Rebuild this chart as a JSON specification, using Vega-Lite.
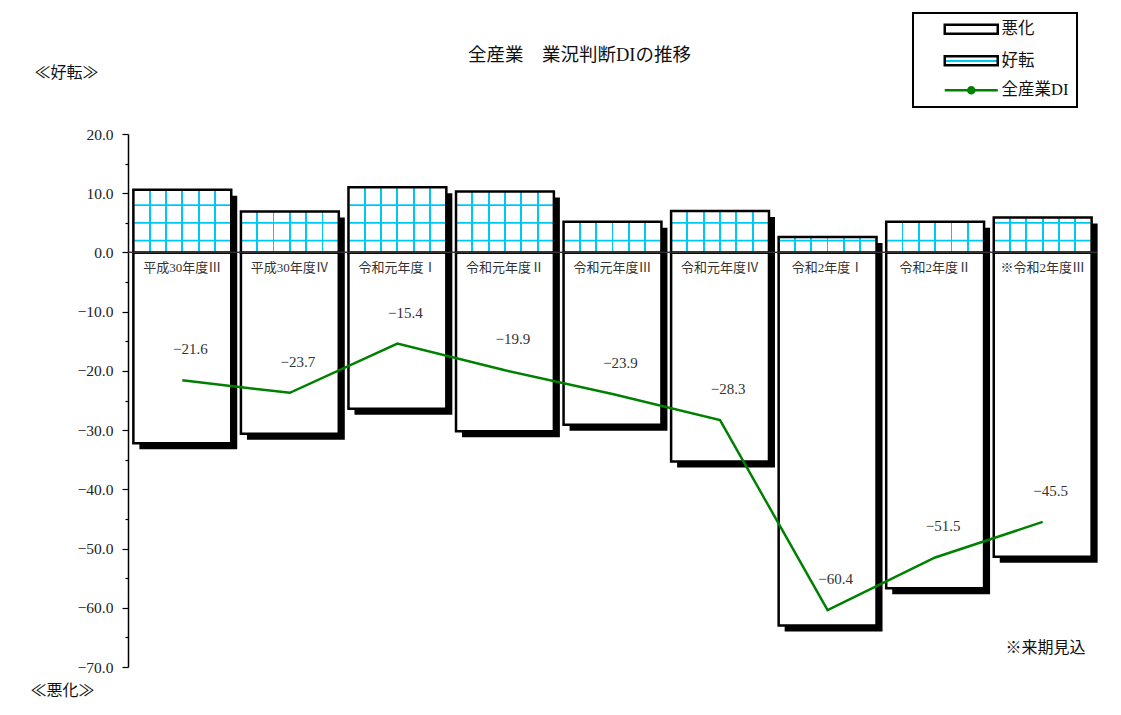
{
  "$schema": "https://vega.github.io/schema/vega-lite/v6.json",
  "autosize": {"type": "none"},
  "width": 969,
  "height": 533,
  "padding": {"left": 128, "top": 134, "right": 24, "bottom": 48},
  "background": "white",
  "title": {"text": "全産業　業況判断DIの推移", "font": "Liberation Serif, Noto Sans CJK JP", "fontSize": 18.5, "fontWeight": "normal", "color": "#111", "anchor": "middle", "frame": "group", "dx": -33, "dy": 58, "offset": 6},
  "config": {
    "view": {"stroke": null},
    "font": "Liberation Serif, Noto Sans CJK JP",
    "text": {"font": "Liberation Serif, Noto Sans CJK JP"}
  },
  "data": {
    "values": [
      {"cat": "平成30年度Ⅲ", "pos": 10.6, "neg": -32.2, "di": -21.6},
      {"cat": "平成30年度Ⅳ", "pos": 6.9, "neg": -30.6, "di": -23.7},
      {"cat": "令和元年度Ⅰ", "pos": 11.0, "neg": -26.4, "di": -15.4},
      {"cat": "令和元年度Ⅱ", "pos": 10.3, "neg": -30.2, "di": -19.9},
      {"cat": "令和元年度Ⅲ", "pos": 5.2, "neg": -29.1, "di": -23.9},
      {"cat": "令和元年度Ⅳ", "pos": 7.0, "neg": -35.3, "di": -28.3},
      {"cat": "令和2年度Ⅰ", "pos": 2.6, "neg": -63.0, "di": -60.4},
      {"cat": "令和2年度Ⅱ", "pos": 5.2, "neg": -56.7, "di": -51.5},
      {"cat": "※令和2年度Ⅲ", "pos": 5.9, "neg": -51.4, "di": -45.5}
    ]
  },
  "encoding": {
    "x": {
      "field": "cat", "type": "nominal", "sort": null,
      "scale": {"paddingInner": 0.09, "paddingOuter": 0.05},
      "axis": {"labels": false, "ticks": false, "domain": false, "title": "※来期見込", "titleX": 917, "titleY": -20, "titleAlign": "center", "titleBaseline": "middle", "titleFont": "Liberation Serif, Noto Sans CJK JP", "titleFontSize": 16, "titleFontWeight": "normal", "titleColor": "#111"}
    }
  },
  "resolve": {"axis": {"y": "independent"}},
  "layer": [
    {
      "mark": {"type": "bar", "fill": "black", "xOffset": 6, "x2Offset": 6, "yOffset": 6, "y2Offset": 6},
      "encoding": {
        "y": {"field": "pos", "type": "quantitative", "scale": {"domain": [-70, 20], "nice": false},
          "axis": {
            "orient": "left",
            "values": [-70, -65, -60, -55, -50, -45, -40, -35, -30, -25, -20, -15, -10, -5, 0, 5, 10, 15, 20],
            "labelExpr": "datum.value % 10 === 0 ? format(datum.value, '.1f') : ''",
            "grid": false,
            "domainColor": "black", "domainWidth": 1.5,
            "tickColor": "black", "tickWidth": 1.2,
            "tickSize": {"condition": {"test": "datum.value % 10 === 0", "value": 6}, "value": 3},
            "labelFont": "Liberation Serif", "labelFontSize": 15.5, "labelColor": "#222", "labelPadding": 9,
            "title": "≪好転≫", "titleAngle": 0, "titleX": -62, "titleY": -62, "titleAlign": "center", "titleBaseline": "middle",
            "titleFont": "Liberation Serif, Noto Sans CJK JP", "titleFontSize": 16, "titleFontWeight": "normal", "titleColor": "#111"
          }
        },
        "y2": {"field": "neg"}
      }
    },
    {
      "mark": {"type": "bar", "fill": "white", "stroke": "black", "strokeWidth": 2.5},
      "encoding": {
        "y": {"field": "neg", "type": "quantitative", "scale": {"domain": [-70, 20], "nice": false},
          "axis": {
            "orient": "right", "labels": false, "ticks": false, "domain": false, "grid": false,
            "title": "≪悪化≫", "titleAngle": 0, "titleX": -1035, "titleY": 556, "titleAlign": "center", "titleBaseline": "middle",
            "titleFont": "Liberation Serif, Noto Sans CJK JP", "titleFontSize": 16, "titleFontWeight": "normal", "titleColor": "#111"
          }
        },
        "y2": {"datum": 0}
      }
    },
    {
      "mark": {"type": "bar", "fill": {"gradient": "linear", "x1": 0, "y1": 0, "x2": 1, "y2": 0, "stops": [
        {"offset": 0, "color": "white"}, {"offset": 0.157, "color": "white"}, {"offset": 0.157, "color": "#00c8f5"}, {"offset": 0.176, "color": "#00c8f5"}, {"offset": 0.176, "color": "white"},
        {"offset": 0.324, "color": "white"}, {"offset": 0.324, "color": "#00c8f5"}, {"offset": 0.343, "color": "#00c8f5"}, {"offset": 0.343, "color": "white"},
        {"offset": 0.49, "color": "white"}, {"offset": 0.49, "color": "#00c8f5"}, {"offset": 0.509, "color": "#00c8f5"}, {"offset": 0.509, "color": "white"},
        {"offset": 0.657, "color": "white"}, {"offset": 0.657, "color": "#00c8f5"}, {"offset": 0.676, "color": "#00c8f5"}, {"offset": 0.676, "color": "white"},
        {"offset": 0.824, "color": "white"}, {"offset": 0.824, "color": "#00c8f5"}, {"offset": 0.843, "color": "#00c8f5"}, {"offset": 0.843, "color": "white"},
        {"offset": 1, "color": "white"}]}},
      "encoding": {
        "y": {"field": "pos", "type": "quantitative", "scale": {"domain": [-70, 20], "nice": false}, "axis": null},
        "y2": {"datum": 0}
      }
    },
    {
      "transform": [
        {"impute": "g", "key": "level", "keyvals": [2, 5, 8, 11], "groupby": ["cat", "pos"], "value": 0},
        {"filter": "isValid(datum.level) && datum.level < datum.pos - 0.3"}
      ],
      "mark": {"type": "tick", "color": "#00c8f5", "thickness": 1.8, "size": 96, "opacity": 1},
      "encoding": {
        "y": {"field": "level", "type": "quantitative", "scale": {"domain": [-70, 20], "nice": false}, "axis": null}
      }
    },
    {
      "mark": {"type": "bar", "fill": "white", "fillOpacity": 0, "stroke": "black", "strokeWidth": 2.5},
      "encoding": {
        "y": {"field": "pos", "type": "quantitative", "scale": {"domain": [-70, 20], "nice": false}, "axis": null},
        "y2": {"datum": 0}
      }
    },
    {
      "mark": {"type": "rule", "color": "#333", "strokeWidth": 1},
      "encoding": {
        "x": null,
        "y": {"datum": 0, "type": "quantitative", "scale": {"domain": [-70, 20], "nice": false}, "axis": null}
      }
    },
    {
      "mark": {"type": "text", "fontSize": 13, "color": "#333", "baseline": "middle", "dy": 16},
      "encoding": {
        "y": {"datum": 0, "type": "quantitative", "scale": {"domain": [-70, 20], "nice": false}, "axis": null},
        "text": {"field": "cat"}
      }
    },
    {
      "mark": {"type": "line", "strokeWidth": 2.5},
      "encoding": {
        "y": {"field": "di", "type": "quantitative", "scale": {"domain": [-70, 20], "nice": false}, "axis": null},
        "color": {
          "datum": "全産業DI", "type": "nominal",
          "scale": {"domain": ["悪化", "好転", "全産業DI"], "range": ["black", "black", "#008000"]},
          "legend": {
            "title": null, "orient": "none", "legendX": 785, "legendY": -121,
            "fillColor": "white", "strokeColor": "black",
            "padding": 8, "rowPadding": 11.5, "symbolSize": 100, "symbolOffset": 42, "labelOffset": 22,
            "symbolStrokeWidth": 2.5,
            "labelFont": "Liberation Serif, Noto Sans CJK JP", "labelFontSize": 16.5, "labelColor": "#111",
            "labelExpr": "datum.label + '　　'",
            "encode": {
              "legend": {"update": {"strokeWidth": {"value": 2}}},
              "symbols": {"update": {
                "shape": {"signal": "datum.value === '全産業DI' ? 'M-5.3,0H5.3M0.6,0A0.6,0.6 0 1,1 -0.6,0A0.6,0.6 0 1,1 0.6,0' : 'M-5.3,-0.9H5.3V0.9H-5.3Z'"},
                "fill": {"signal": "datum.value === '全産業DI' ? '#008000' : (datum.value === '好転' ? {gradient: 'linear', x1: 0, y1: 0, x2: 0, y2: 1, stops: [{offset: 0, color: 'white'}, {offset: 0.38, color: 'white'}, {offset: 0.38, color: '#00c8f5'}, {offset: 0.62, color: '#00c8f5'}, {offset: 0.62, color: 'white'}, {offset: 1, color: 'white'}]} : 'white')"},
                "opacity": {"value": 1}
              }}
            }
          }
        }
      }
    },
    {
      "mark": {"type": "text", "fontSize": 15, "color": "#333", "baseline": "middle", "dx": 8, "dy": -31, "font": "Liberation Serif"},
      "encoding": {
        "y": {"field": "di", "type": "quantitative", "scale": {"domain": [-70, 20], "nice": false}, "axis": null},
        "text": {"field": "di", "type": "quantitative", "format": ".1f"}
      }
    }
  ]
}
